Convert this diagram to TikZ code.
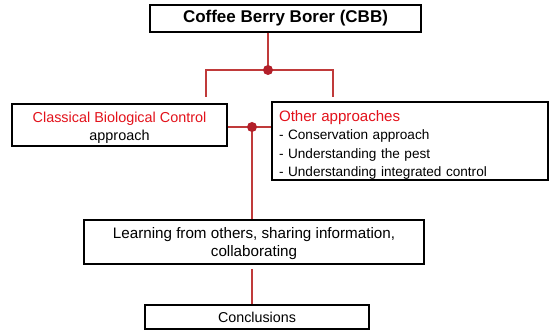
\documentclass[tikz,border=0pt]{standalone}
\usepackage{fontspec}
\setmainfont{Liberation Sans}
\usetikzlibrary{positioning}
\definecolor{cbbred}{HTML}{E3121B}
\definecolor{cbbline}{HTML}{C03A3A}
\definecolor{cbbdot}{HTML}{B3202A}

\begin{document}
\begin{tikzpicture}[x=1pt,y=-1pt,
  box/.style={draw=black,line width=1.1pt,inner sep=0pt,align=center,fill=white},
  link/.style={draw=cbbline,line width=1.4pt},
  joint/.style={circle,fill=cbbdot,inner sep=0pt,minimum size=10pt}]
  \useasboundingbox (0,0) rectangle (549,331);
  % boxes
  \node[box,minimum width=271pt,minimum height=27pt,font=\bfseries\fontsize{17}{20}\selectfont]
    (cbb) at (285.5,18.5) {Coffee Berry Borer (CBB)};
  \node[box,minimum width=215pt,minimum height=42pt,font=\fontsize{14.4}{18}\selectfont]
    (cbc) at (119.5,125) {\rule{0pt}{16pt}\textcolor{cbbred}{Classical Biological Control}\\approach};
  \node[box,minimum width=276pt,minimum height=78pt,align=left,text width=262pt,inner xsep=7pt,
    font=\fontsize{13.6}{18.2}\selectfont]
    (other) at (410,141) {{\color{cbbred}\fontsize{15.1}{19}\selectfont\rule{0pt}{19pt}Other approaches}\\
     - Conservation approach\\
     - Understanding the pest\\
     - Understanding integrated control};
  \node[box,minimum width=340pt,minimum height=44pt,font=\fontsize{15.2}{18.5}\selectfont]
    (learn) at (254,242) {\rule{0pt}{14pt}Learning from others, sharing information,\\collaborating};
  \node[box,minimum width=224pt,minimum height=24pt,font=\fontsize{14.3}{17}\selectfont]
    (concl) at (257,317) {Conclusions};
  % junctions
  \coordinate (jtop) at (268,70);
  \coordinate (ltop) at (206,97);
  \coordinate (rtop) at (333,97);
  \coordinate (jmid) at (252,127);
  \coordinate (lbot) at (252,269);
  % connectors
  \draw[link] (cbb.south -| jtop) -- (jtop);
  \draw[link] (ltop) |- (jtop) -| (rtop);
  \draw[link] (cbc.east |- jmid) -- (other.west |- jmid);
  \draw[link] (jmid) -- (learn.north -| jmid);
  \draw[link] (lbot) -- (concl.north -| lbot);
  \node[joint] (dtop) at (jtop) {};
  \node[joint] (dmid) at (jmid) {};
\end{tikzpicture}
\end{document}
